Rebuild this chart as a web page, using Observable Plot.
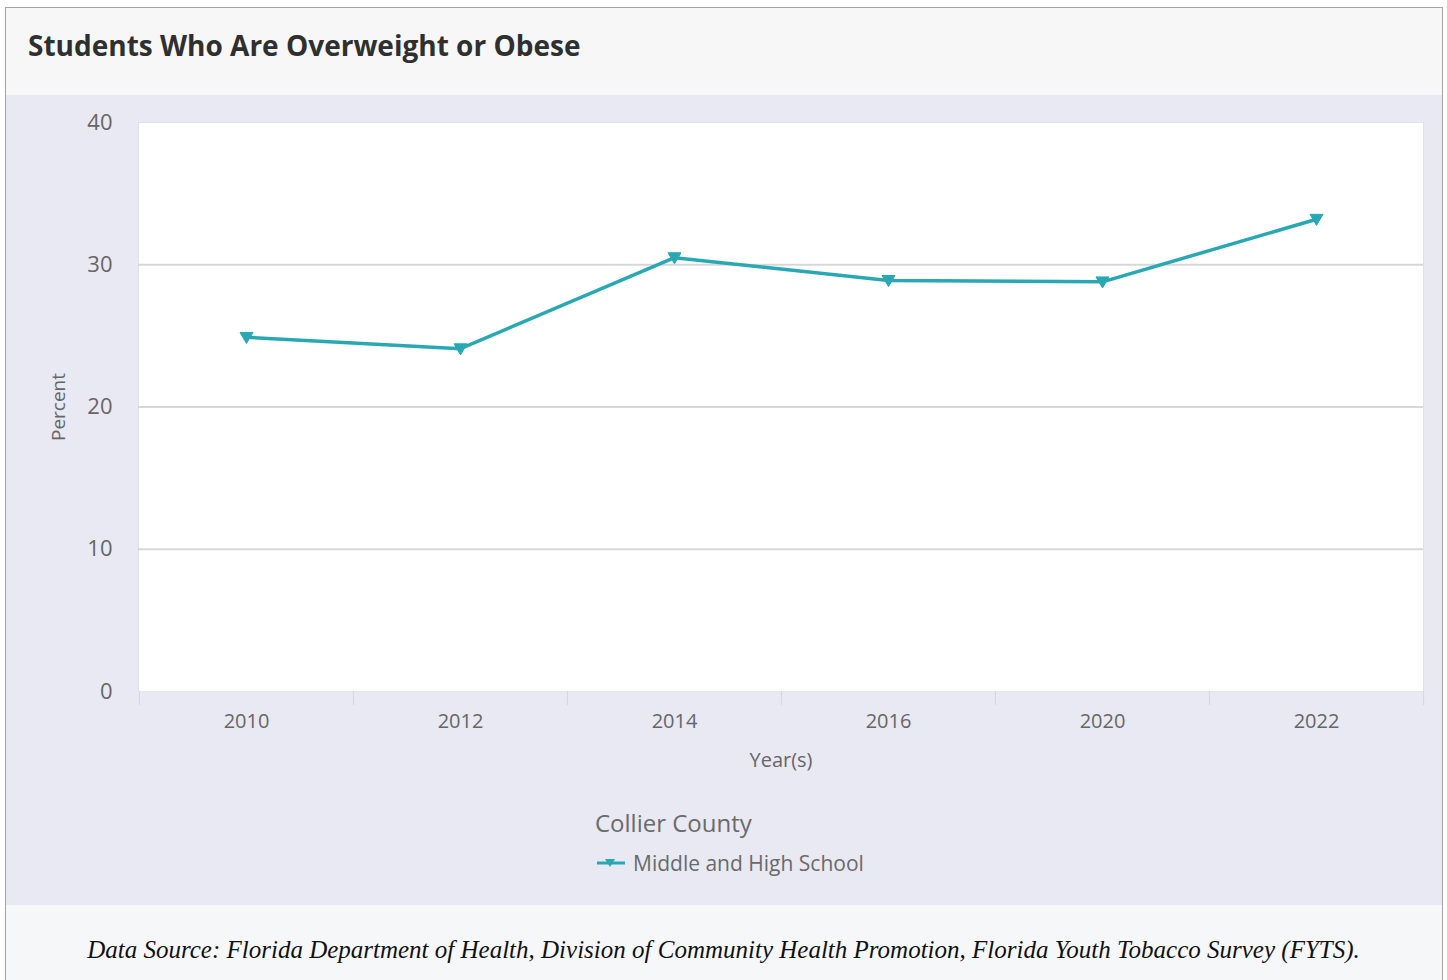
<!DOCTYPE html>
<html><head><meta charset="utf-8">
<script src="https://cdn.jsdelivr.net/npm/d3@7"></script>
<script src="https://cdn.jsdelivr.net/npm/@observablehq/plot@0.6"></script>
<style>
html,body{margin:0;padding:0;background:#fff;}
body{font-family:"Open Sans",sans-serif;width:1447px;height:980px;overflow:hidden;position:relative;}
#card{position:absolute;left:5px;top:7px;width:1438px;height:980px;border:1px solid #a3a3a3;border-bottom:none;box-sizing:border-box;background:#f6f7f9;}
#titlebar{height:87px;background:#f7f7f7;position:relative;}
#title{position:absolute;left:22px;top:18px;font-weight:700;font-size:28px;line-height:38px;color:#2f2f2f;letter-spacing:0px;}
#panel{height:810px;background:#e8e9f3;position:relative;}
#legend-title{position:absolute;left:589px;top:712px;font-size:24px;line-height:32px;color:#6a6a6a;}
#legend-item{position:absolute;left:589px;top:754px;font-size:21px;line-height:28px;color:#6a6a6a;display:flex;align-items:center;}
#legend-item svg{margin-right:6px;}
#caption{position:absolute;left:0;width:100%;text-align:center;font-family:"Liberation Serif",serif;font-style:italic;font-size:25px;color:#111;line-height:34px;top:933px;}
</style>
</head><body>
<div id="card">
  <div id="titlebar"><div id="title">Students Who Are Overweight or Obese</div></div>
  <div id="panel">
    <div id="chart"></div>
    <div id="legend-title"></div>
    <div id="legend-item"></div>
  </div>
</div>
<div id="caption"></div>
<script>
// ---- data ----
const years = ["2010", "2012", "2014", "2016", "2020", "2022"];
const percents = [24.9, 24.1, 30.5, 28.9, 28.8, 33.2];
const yTicks = [0, 10, 20, 30, 40];
const gridValues = [10, 20, 30];
const seriesName = "Middle and High School";
const legendTitle = "Collier County";
const xLabel = "Year(s)";
const yLabel = "Percent";
const captionText = "Data Source: Florida Department of Health, Division of Community Health Promotion, Florida Youth Tobacco Survey (FYTS).";

const lineColor = "#29a8b3";
const data = years.map((y, i) => ({year: y, value: percents[i]}));

const triDown = {
  draw(ctx, size) {
    const r = Math.sqrt(size / Math.PI);
    ctx.moveTo(-r, -r * 0.75);
    ctx.lineTo(r, -r * 0.75);
    ctx.lineTo(0, r * 0.95);
    ctx.closePath();
  }
};

const W = 1436, H = 700, ML = 132, MR = 19, MT = 27, MB = 104;
const bw = (W - ML - MR) / years.length;

const chart = Plot.plot({
  width: W, height: H,
  marginLeft: ML, marginRight: MR, marginTop: MT, marginBottom: MB,
  style: {background: "transparent", fontFamily: "Open Sans, sans-serif", overflow: "visible"},
  x: {type: "band", domain: years, padding: 0, label: null},
  y: {domain: [0, 40], label: null},
  marks: [
    Plot.frame({fill: "white", stroke: "#dfe0ea", strokeWidth: 1}),
    Plot.ruleY(gridValues, {stroke: "#d7d7d7", strokeWidth: 2}),
    Plot.ruleY([0], {stroke: "#e6e6ec", strokeWidth: 1}),
    Plot.ruleX(years, {x: d => d, dx: -bw / 2, y1: 0, y2: 0, insetBottom: -14, stroke: "#d4d6e2", strokeWidth: 1}),
    Plot.ruleX(years.slice(-1), {x: d => d, dx: bw / 2, y1: 0, y2: 0, insetBottom: -14, stroke: "#d4d6e2", strokeWidth: 1}),
    Plot.axisY(yTicks, {tickSize: 0, tickPadding: 26, fontSize: 22, fill: "#666", label: null}),
    Plot.axisX({tickSize: 0, tickPadding: 22, fontSize: 20, fill: "#666", label: null}),
    Plot.text([xLabel], {frameAnchor: "bottom", dy: 75, fontSize: 20, fill: "#666", text: d => d}),
    Plot.text([yLabel], {frameAnchor: "left", dx: -80, rotate: -90, textAnchor: "middle", fontSize: 19, fill: "#666", text: d => d}),
    Plot.line(data, {x: "year", y: "value", stroke: lineColor, strokeWidth: 3.5}),
    Plot.dot(data, {x: "year", y: "value", symbol: triDown, r: 6.5, fill: lineColor, stroke: lineColor, strokeWidth: 1})
  ]
});
document.getElementById("chart").appendChild(chart);

document.getElementById("legend-title").textContent = legendTitle;
const item = document.getElementById("legend-item");
const sw = d3.create("svg").attr("width", 32).attr("height", 20);
sw.append("line").attr("x1", 2).attr("x2", 30).attr("y1", 10).attr("y2", 10).attr("stroke", lineColor).attr("stroke-width", 3);
sw.append("path").attr("d", "M10,6 L20,6 L15,14 Z").attr("fill", lineColor);
item.appendChild(sw.node());
const span = document.createElement("span");
span.textContent = seriesName;
item.appendChild(span);
document.getElementById("caption").textContent = captionText;
</script>
</body></html>
